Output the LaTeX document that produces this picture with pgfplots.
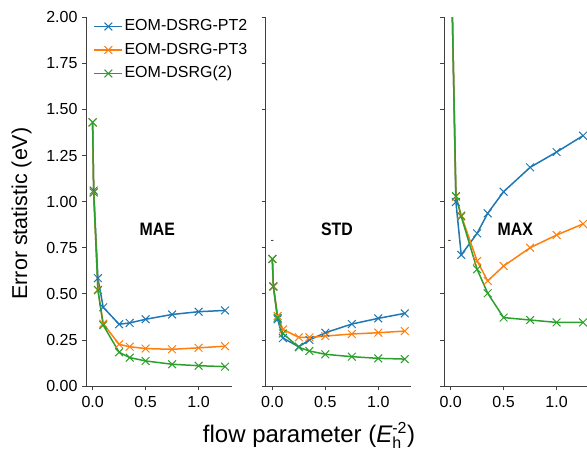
\documentclass[border=0pt]{standalone}
\usepackage{fontspec}
\setmainfont{Liberation Sans}
\usepackage{graphicx}
\usepackage{pgfplots}
\usepackage{pgfplotstable}
\pgfplotsset{compat=1.18}
\definecolor{tabblue}{HTML}{1F77B4}
\definecolor{taborange}{HTML}{FF7F0E}
\definecolor{tabgreen}{HTML}{2CA02C}
\definecolor{spine}{HTML}{404040}

\pgfplotstableread{
x    mae1  mae2  mae3  std1  std2  std3  max1  max2  max3
0    1.430 1.430 1.430 0.689 0.689 0.689 3.000 3.000 3.000
0.01 1.060 1.050 1.050 0.540 0.540 0.540 2.200 2.200 2.200
0.05 0.585 0.522 0.520 0.362 0.380 0.370 0.998 1.027 1.030
0.10 0.427 0.338 0.330 0.260 0.307 0.285 0.711 0.925 0.920
0.25 0.335 0.226 0.183 0.213 0.264 0.210 0.828 0.678 0.633
0.35 0.342 0.213 0.154 0.250 0.264 0.190 0.937 0.570 0.503
0.50 0.362 0.203 0.136 0.289 0.271 0.172 1.054 0.651 0.371
0.75 0.388 0.199 0.118 0.336 0.282 0.159 1.186 0.750 0.358
1.00 0.403 0.207 0.110 0.367 0.289 0.150 1.269 0.819 0.345
1.25 0.410 0.216 0.105 0.394 0.298 0.146 1.358 0.879 0.345
}\data

\pgfplotsset{
  panel/.style={
    scale only axis, width=145.7pt, height=368.7pt,
    xmin=-0.0625, xmax=1.3125, ymin=0, ymax=2,
    axis x line*=bottom, axis y line*=left,
    axis line style={spine, line width=0.8pt, -},
    every tick/.style={spine, line width=0.8pt},
    tick align=outside, major tick length=4pt,
    xtick={0,0.5,1},
    xticklabel style={yshift=-3pt, /pgf/number format/.cd, fixed, fixed zerofill, precision=1},
    yticklabel style={xshift=-1pt, /pgf/number format/.cd, fixed, fixed zerofill, precision=2},
    ticklabel style={font=\fontsize{16}{16}\selectfont},
    /pgf/number format/assume math mode=true,
    every axis plot/.append style={line width=1.5pt, mark=x, mark size=5.5pt,
      mark options={solid, line width=1pt}},
  },
}
\tikzset{lab/.style={font=\fontsize{18}{18}\selectfont\bfseries}}

\begin{document}
\begin{tikzpicture}
\useasboundingbox (0,0) rectangle (587pt,450pt);

\begin{axis}[panel, at={(86pt,64pt)}, anchor=south west,
  ytick={0,0.25,0.5,0.75,1,1.25,1.5,1.75,2},
  legend style={draw=none, fill=none, at={(0.052,1.0069)}, anchor=north west,
    inner sep=0pt, outer sep=0pt, font=\fontsize{16}{16}\selectfont,
    nodes={inner xsep=1.5pt, inner ysep=4.25pt, text height=11.5pt, text depth=3.5pt},
    row sep=0pt, column sep=0pt},
  legend cell align=left,
  legend image code/.code={\draw[mark repeat=2, mark phase=2] plot coordinates {(0pt,0pt) (14pt,0pt) (28pt,0pt)};},
]
\addplot[tabblue] table[x=x, y=mae1] {\data};
\addplot[taborange] table[x=x, y=mae2] {\data};
\addplot[tabgreen] table[x=x, y=mae3] {\data};
\legend{EOM-DSRG-PT2, EOM-DSRG-PT3, EOM-DSRG(2)}
\node[lab] at (axis cs:0.61,0.85) {\scalebox{0.88}[1]{MAE}};
\end{axis}

\begin{axis}[panel, at={(265.7pt,64pt)}, anchor=south west,
  ytick={0,0.25,0.5,0.75,1,1.5,1.75,2}, yticklabels={}]
\addplot[tabblue] table[x=x, y=std1] {\data};
\addplot[taborange] table[x=x, y=std2] {\data};
\addplot[tabgreen] table[x=x, y=std3] {\data};
\node[lab] at (axis cs:0.61,0.85) {\scalebox{0.88}[1]{STD}};
\node[font=\fontsize{10}{10}\selectfont, inner sep=0pt] at (axis cs:0,0.78) {-};
\end{axis}

\begin{axis}[panel, at={(444pt,64pt)}, anchor=south west,
  ytick={0,0.25,0.5,0.75,1,1.5,1.75,2}, yticklabels={}]
\addplot[tabblue] table[x=x, y=max1] {\data};
\addplot[taborange] table[x=x, y=max2] {\data};
\addplot[tabgreen] table[x=x, y=max3] {\data};
\node[lab] at (axis cs:0.61,0.85) {\scalebox{0.88}[1]{MAX}};
\node[font=\fontsize{10}{10}\selectfont, inner sep=0pt] at (axis cs:-0.01,0.78) {-};
\end{axis}

\node[rotate=90, anchor=base, font=\fontsize{21.5}{21.5}\selectfont] at (27pt,236.5pt) {Error statistic (eV)};
\node[anchor=base, font=\fontsize{24}{24}\selectfont] at (309pt,7.5pt)
  {flow parameter ({\itshape E}$_{\mbox{\fontsize{16}{16}\selectfont h}}^{\mbox{\fontsize{16}{16}\selectfont -2}}$)};
\end{tikzpicture}
\end{document}
